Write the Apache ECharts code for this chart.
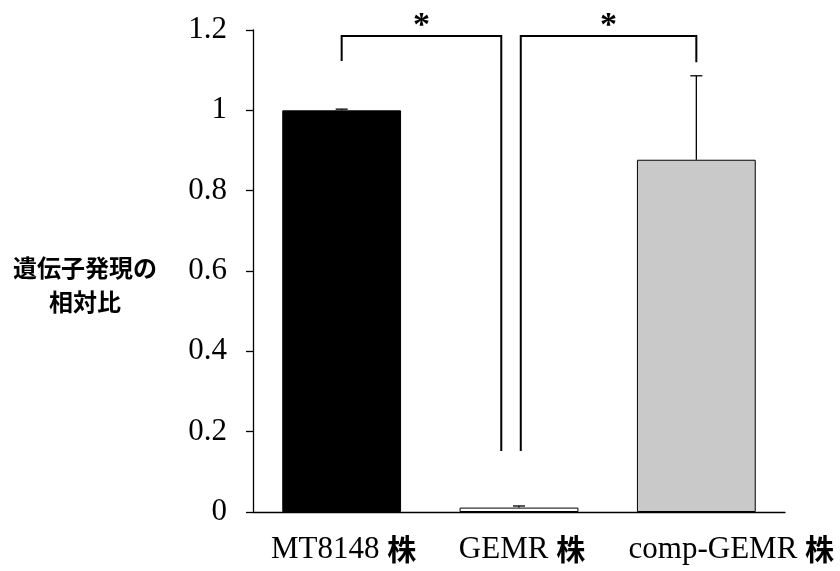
<!DOCTYPE html>
<html>
<head>
<meta charset="utf-8">
<script src="https://cdn.jsdelivr.net/npm/echarts@6.0.0/dist/echarts.min.js"></script>
<style>
  html, body { margin: 0; padding: 0; background: #fff; }
  #chart { width: 840px; height: 571px; }
</style>
</head>
<body>
<div id="chart"></div>
<script>
// values
const categories = ['MT8148 株', 'GEMR 株', 'comp-GEMR 株']
const means = [1.0, 0.011, 0.877]
const errors = [0.003, 0.004, 0.209]
const barColors = ['#000000', '#ffffff', '#c9c9c9']

// significance brackets: x in category units, y in data units
const bracketX = [[0, 0.9], [1.01, 2.0]]
const bracketTop = [1.185, 1.185]
const bracketLegs = [[1.123, 0.152], [0.152, 1.12]]
const bracketMarks = ['*', '*']

const serif = '"Liberation Serif", "Times New Roman", serif'

const chart = echarts.init(document.getElementById('chart'), null, { renderer: 'canvas' })

const renderErrorBar = (params, api) => {
    const i = api.value(0)
    const top = api.coord([i, api.value(1) + api.value(2)])
    const base = api.coord([i, api.value(1)])
    const cap = 6
    return {
        type: 'group',
        children: [
            { type: 'line', shape: { x1: base[0], y1: base[1], x2: top[0], y2: top[1] }, style: { stroke: '#000', lineWidth: 1.3 } },
            { type: 'line', shape: { x1: top[0] - cap, y1: top[1], x2: top[0] + cap, y2: top[1] }, style: { stroke: '#000', lineWidth: 1.3 } },
        ],
    }
}

const renderBracket = (params, api) => {
    const k = params.dataIndex
    const [x0, x1] = bracketX[k]
    const [l0, l1] = bracketLegs[k]
    const pA = api.coord([x0, l0])
    const pB = api.coord([x0, bracketTop[k]])
    const pC = api.coord([x1, bracketTop[k]])
    const pD = api.coord([x1, l1])
    return {
        type: 'group',
        children: [
            { type: 'polyline', shape: { points: [pA, pB, pC, pD] }, style: { stroke: '#000', lineWidth: 2, fill: null } },
            {
                type: 'text',
                x: (pB[0] + pC[0]) / 2,
                y: pB[1] + 7,
                style: { text: bracketMarks[k], font: 'bold 34px ' + serif, fill: '#000', align: 'center', verticalAlign: 'bottom' },
            },
        ],
    }
}

// last label sits a bit right of its bar in the original
const labelShift = [4, 6, 70]

chart.setOption({
    animation: false,
    backgroundColor: '#fff',
    grid: { left: 253, right: 55, top: 30, bottom: 59 },
    xAxis: [
        {
            type: 'category',
            data: categories.map((c, i) => ({ value: c, textStyle: { padding: [0, 0, 0, labelShift[i]] } })),
            axisLine: { onZero: false, lineStyle: { color: '#000', width: 1.3 } },
            axisTick: { show: false },
            axisLabel: {
                color: '#000',
                margin: 22,
                interval: 0,
                formatter: (v) => {
                    const [name, suffix] = v.split(' ')
                    return '{a|' + name + ' }{b|' + suffix + '}'
                },
                rich: {
                    a: { fontFamily: serif, fontSize: 31, color: '#000' },
                    b: { fontFamily: '"Noto Sans CJK JP"', fontWeight: 'bold', fontSize: 29, color: '#000' },
                },
            },
        },
        { type: 'value', min: -0.5, max: 2.5, show: false },
    ],
    yAxis: {
        type: 'value',
        min: 0,
        max: 1.2,
        interval: 0.2,
        splitLine: { show: false },
        axisLine: { show: true, onZero: false, lineStyle: { color: '#000', width: 1.3 } },
        axisTick: { show: true, length: 7, lineStyle: { color: '#000', width: 1.3 } },
        axisLabel: { color: '#000', fontFamily: serif, fontSize: 31, margin: 26 },
    },
    graphic: [
        {
            type: 'text',
            x: 85,
            y: 285,
            style: {
                text: '遺伝子発現の\n相対比',
                font: 'bold 24px "Noto Sans CJK JP"',
                lineHeight: 34,
                fill: '#000',
                align: 'center',
                verticalAlign: 'middle',
            },
        },
    ],
    series: [
        {
            type: 'bar',
            barCategoryGap: '33%',
            data: means.map((v, i) => ({ value: v, itemStyle: { color: barColors[i], borderColor: '#000', borderWidth: 1 } })),
            z: 2,
        },
        {
            type: 'custom',
            renderItem: renderErrorBar,
            data: means.map((v, i) => [i, v, errors[i]]),
            encode: { x: 0, y: [1] },
            z: 3,
        },
        {
            type: 'custom',
            xAxisIndex: 1,
            renderItem: renderBracket,
            data: bracketX.map((x, k) => [x[0], bracketTop[k]]),
            encode: { x: 0, y: 1 },
            z: 4,
        },
    ],
})
</script>
</body>
</html>
